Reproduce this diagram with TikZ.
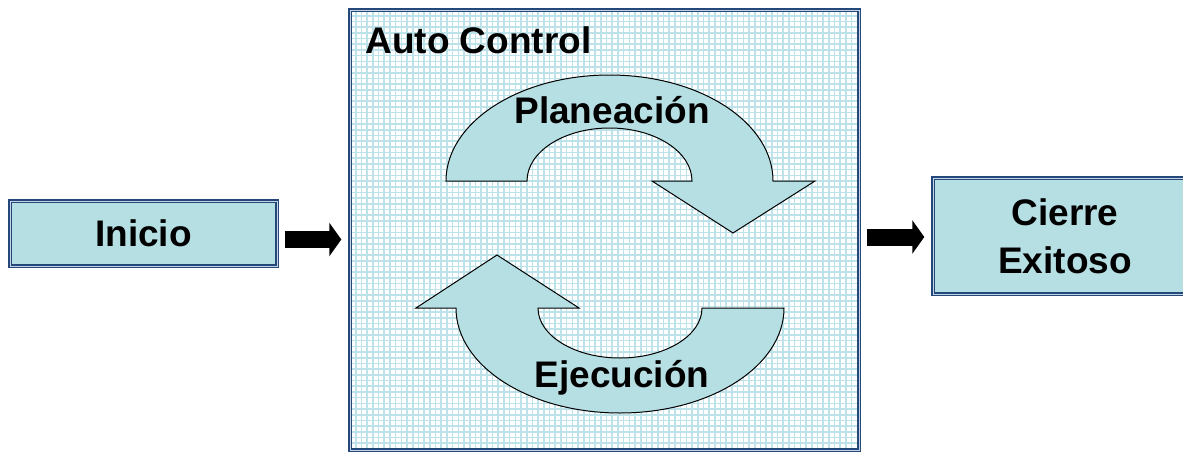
\documentclass[tikz,border=0pt]{standalone}
\usepackage{fontspec}
\setmainfont{Liberation Sans}
\usepackage{xcolor}
\usetikzlibrary{arrows.meta}
\definecolor{boxfill}{RGB}{182,223,228}
\definecolor{boxblue}{RGB}{36,72,122}
\definecolor{boxlight}{RGB}{196,212,230}
\definecolor{gridblue}{RGB}{190,226,233}
\tikzset{
  caja/.style={draw=boxblue, double=boxlight, line width=0.7pt, double distance=0.5pt,
    inner sep=0pt, font=\bfseries\fontsize{18.5}{24}\selectfont, align=center},
  flecha/.style={line width=8.5pt, -{Triangle[length=6pt,width=16.5pt]}},
  curva/.style={fill=boxfill, draw=black, line width=0.5pt},
  rotulo/.style={inner sep=0pt, font=\bfseries\fontsize{18.5}{24}\selectfont}
}
\begin{document}
\begin{tikzpicture}[x=0.5pt,y=-0.5pt]
    \useasboundingbox (0,0) rectangle (1183,455);
    \clip (0,0) rectangle (1183,455);
    \fill[white] (0,0) rectangle (1183,455);
    \begin{scope}[draw=gridblue, line width=0.8pt]
      \clip (350,10) rectangle (859,450);
      \foreach \i in {0,...,90} {
        \draw (350+5.7*\i,10) -- (350+5.7*\i,450);
      }
      \foreach \j in {0,...,78} {
        \draw (350,10+5.7*\j) -- (859,10+5.7*\j);
      }
    \end{scope}
    \node[caja, fill=boxfill, minimum width=133.5pt, minimum height=32.5pt] (inicio) at (143.5,233.5) {Inicio};
    \node[caja, minimum width=254.5pt, minimum height=220pt] (auto) at (604.5,230) {};
    \node[caja, fill=boxfill, minimum width=132pt, minimum height=58pt] (cierre) at (1065,236) {Cierre\\Exitoso};
    \node[rotulo, anchor=base west] (titulo) at (365,53) {Auto Control};
    \draw[flecha, shorten <=3.5pt, shorten >=4pt] ([yshift=-3pt]inicio.east) -- ([yshift=-3pt]inicio.east -| auto.west);
    \draw[flecha, shorten <=3.5pt, shorten >=4pt] ([yshift=-0.5pt]cierre.west -| auto.east) -- ([yshift=-0.5pt]cierre.west);
    \draw[curva] (446,181) arc[start angle=180, end angle=360, x radius=163.5, y radius=106]
      -- (815,181) -- (733,233) -- (652,181) -- (692,181)
      arc[start angle=0, end angle=-180, x radius=82.5, y radius=53] -- cycle;
    \draw[curva] (784,308) arc[start angle=0, end angle=180, x radius=164, y radius=105]
      -- (416,308) -- (497,255) -- (579,308) -- (538,308)
      arc[start angle=180, end angle=0, x radius=82, y radius=50] -- cycle;
    \node[rotulo, anchor=base] (plan) at (612,123) {Planeación};
    \node[rotulo, anchor=base] (ejec) at (622,387) {Ejecución};
\end{tikzpicture}
\end{document}
